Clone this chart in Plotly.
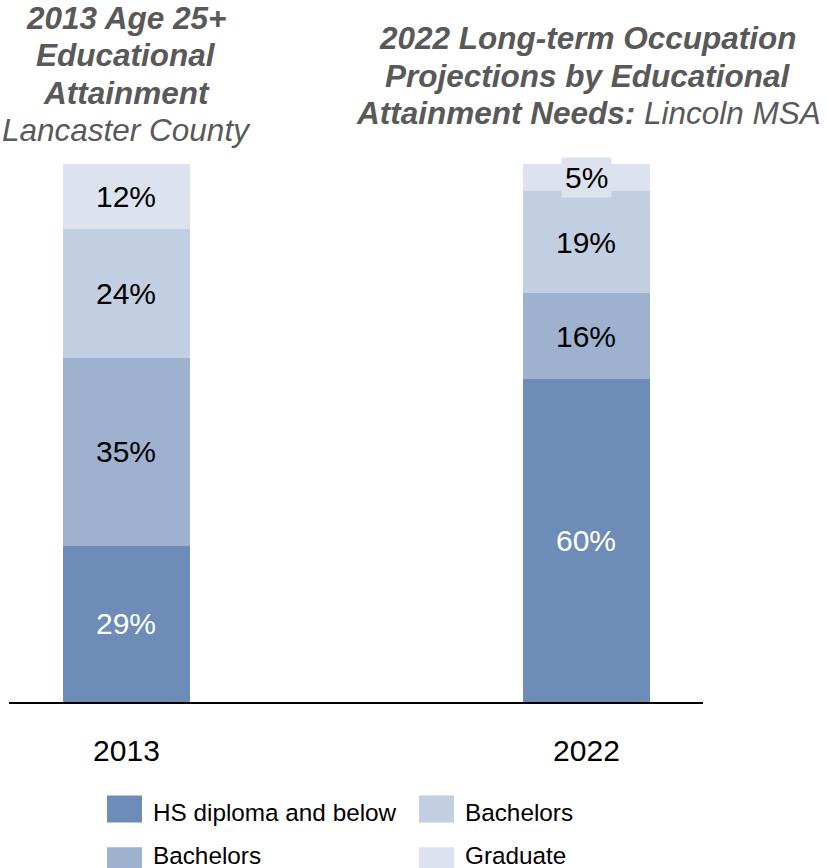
import plotly.graph_objects as go

years = ["2013", "2022"]
series_names = ["HS diploma and below", "Bachelors", "Bachelors", "Graduate"]
values = {
    0: [29, 60],
    1: [35, 16],
    2: [24, 19],
    3: [12, 5],
}
colors = ["#6d8cb8", "#9eb1cf", "#c2cee1", "#dce3ee"]
label_colors = ["#ffffff", "#000000", "#000000", "#000000"]

FONT = "Liberation Sans, Arial, Helvetica, sans-serif"
xpos = [0, 1]

fig = go.Figure()
for i, name in enumerate(series_names):
    fig.add_trace(go.Bar(
        x=xpos, y=values[i], name=name, width=0.276,
        marker=dict(color=colors[i], line=dict(width=0)),
        showlegend=False, hoverinfo="skip",
    ))

annotations = []
# segment labels
for j in range(len(years)):
    base = 0
    for i in range(len(series_names)):
        v = values[i][j]
        mid = base + v / 2
        base += v
        ann = dict(x=xpos[j], y=mid, xref="x", yref="y", text=f"{v}%",
                   showarrow=False, font=dict(family=FONT, size=30, color=label_colors[i]),
                   xanchor="center", yanchor="middle")
        if i == 3 and v < 8:
            ann.update(bgcolor=colors[i], borderpad=3)
        annotations.append(ann)

H = 538.5
BOT = 702.5
def py(p):
    return (BOT - p) / H

left_title = [("<b><i>2013 Age 25+</i></b>", 18), ("<b><i>Educational</i></b>", 55),
              ("<b><i>Attainment</i></b>", 92.5), ("<i>Lancaster County</i>", 129.5)]
right_title = [("<b><i>2022 Long-term Occupation</i></b>", 37.5),
               ("<b><i>Projections by Educational</i></b>", 75.5),
               ("<b><i>Attainment Needs:</i></b><i> Lincoln MSA</i>", 112.5)]
for txt, p in left_title:
    annotations.append(dict(x=0, y=py(p), xref="x", yref="paper", text=txt, showarrow=False,
                            font=dict(family=FONT, size=31.5, color="#595959"),
                            xanchor="center", yanchor="middle", borderpad=0))
for txt, p in right_title:
    annotations.append(dict(x=1.004, y=py(p), xref="x", yref="paper", text=txt, showarrow=False,
                            font=dict(family=FONT, size=31.5, color="#595959"),
                            xanchor="center", yanchor="middle", borderpad=0))

# manual legend
W = 694.0
L = 9.0
def px(p):
    return (p - L) / W

legend_items = [(0, 107, 796, 813), (2, 419, 796, 813), (1, 107, 848, 856), (3, 419, 848, 856)]
shapes = []
for idx, x0, y0, ty in legend_items:
    shapes.append(dict(type="rect", xref="paper", yref="paper",
                       x0=px(x0), x1=px(x0 + 35), y0=py(y0 + 27), y1=py(y0),
                       fillcolor=colors[idx], line=dict(width=0)))
    annotations.append(dict(x=px(x0 + 45), y=py(ty), xref="paper", yref="paper",
                            text=series_names[idx], showarrow=False,
                            font=dict(family=FONT, size=24.3, color="#000000"),
                            xanchor="left", yanchor="middle", borderpad=0))

fig.update_layout(
    width=827, height=868,
    margin=dict(l=9, r=124, t=164, b=166, pad=0),
    barmode="stack",
    paper_bgcolor="white", plot_bgcolor="white",
    annotations=annotations, shapes=shapes,
    xaxis=dict(range=[-0.2554, 1.2533], tickvals=xpos, ticktext=years,
               tickfont=dict(family=FONT, size=30, color="#000000"),
               showgrid=False, zeroline=False, showline=True, linecolor="#000000",
               linewidth=2, ticks="outside", ticklen=21, tickcolor="rgba(0,0,0,0)",
               fixedrange=True),
    yaxis=dict(range=[0, 100], visible=False, showgrid=False, zeroline=False, fixedrange=True),
    font=dict(family=FONT),
    showlegend=False,
)

fig.write_html("out.html")
